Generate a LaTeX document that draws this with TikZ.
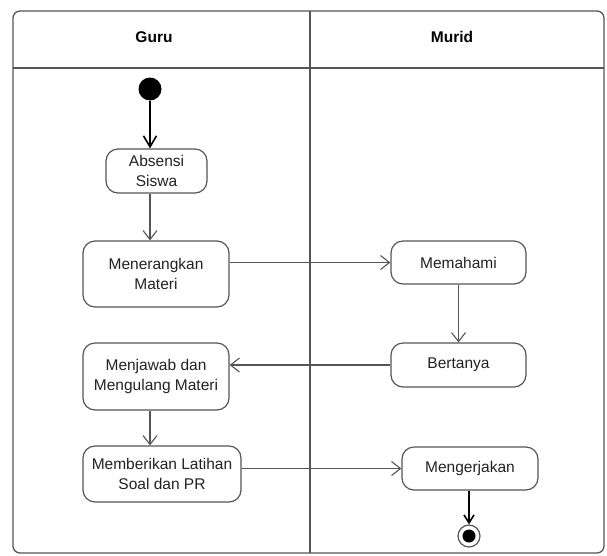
\documentclass[tikz,border=0pt]{standalone}
\usepackage{fontspec}
\setmainfont{Liberation Sans}
\usetikzlibrary{arrows.meta}
\definecolor{lane}{HTML}{555555}
\definecolor{txt}{HTML}{222222}
\tikzset{
  act/.style={draw=lane, line width=1.2pt, fill=white, rounded corners=12pt,
    align=center, inner sep=0pt, text=txt, font=\fontsize{15.5}{20.5}\selectfont},
  flow/.style={draw=lane, line width=1.1pt, -{Straight Barb[length=9pt,width=14pt,line width=1.1pt]}},
  bold flow/.style={draw=black, line width=2pt, -{Straight Barb[length=11pt,width=13pt,line width=1.6pt]}},
  hdr/.style={font=\fontsize{15.5}{18}\selectfont\bfseries, text=black},
}
\begin{document}
\begin{tikzpicture}[x=1pt,y=-1pt]
\useasboundingbox (0,0) rectangle (607,555);
% swimlane frame
\draw[lane, line width=1.3pt, rounded corners=7pt] (13,11) rectangle (604,553);
\draw[lane, line width=1.3pt] (13,68) -- (604,68);
\draw[lane, line width=1.3pt] (310,11) -- (310,553);
\node[hdr] (guru) at (154,37) {Guru};
\node[hdr] (murid) at (452,37) {Murid};
% nodes
\node[circle, fill=black, minimum size=23pt, inner sep=0pt] (start) at (150,89) {};
\node[act, minimum width=101pt, minimum height=44pt] (absensi) at (156.5,171) {Absensi\\Siswa};
\node[act, minimum width=146pt, minimum height=66pt] (menerangkan) at (156,274) {Menerangkan\\Materi};
\node[act, minimum width=146pt, minimum height=67pt] (menjawab) at (156,376.5) {Menjawab dan\\Mengulang Materi};
\node[act, minimum width=158pt, minimum height=56pt] (memberikan) at (162,474) {Memberikan Latihan\\Soal dan PR};
\node[act, minimum width=135pt, minimum height=43pt] (memahami) at (458.5,262.5) {Memahami};
\node[act, minimum width=135pt, minimum height=44pt] (bertanya) at (458.5,365) {Bertanya};
\node[act, minimum width=136pt, minimum height=43pt] (mengerjakan) at (470,468.5) {Mengerjakan};
\node[circle, draw=lane, line width=1.2pt, fill=white, minimum size=22pt, inner sep=0pt] (end) at (469,536) {};
\node[circle, fill=black, minimum size=13pt, inner sep=0pt] (endin) at (end) {};
% connectors
\draw[bold flow] (start.south) -- (start.south |- absensi.north);
\draw[flow] (absensi.south -| start) -- (start |- menerangkan.north);
\draw[flow] (menerangkan.east |- memahami.west) -- (memahami.west);
\draw[flow] (memahami.south) -- (bertanya.north);
\draw[flow] (bertanya.west) -- (bertanya.west -| menjawab.east);
\draw[flow] (menjawab.south -| start) -- (start |- memberikan.north);
\draw[flow] (memberikan.east |- mengerjakan.west) -- (mengerjakan.west);
\draw[draw=black, line width=2pt, -{Straight Barb[length=8pt,width=10pt,line width=1.6pt]}] (mengerjakan.south -| end) -- (end.north);
\end{tikzpicture}
\end{document}
